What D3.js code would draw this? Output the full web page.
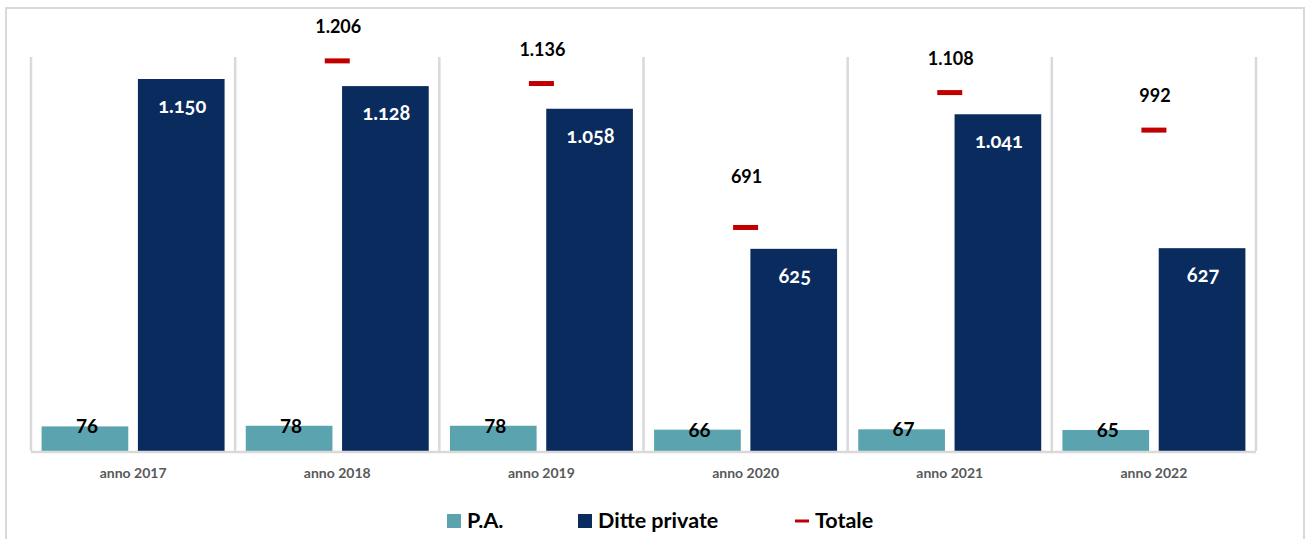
<!DOCTYPE html>
<html>
<head>
<meta charset="utf-8">
<script src="https://cdn.jsdelivr.net/npm/d3@7"></script>
<style>
  html, body { margin: 0; padding: 0; background: #fff; }
  svg { display: block; }
  text { font-family: Lato, "Open Sans", sans-serif; }
</style>
</head>
<body>
<svg id="chart" width="1305" height="539"></svg>
<script>
// Categories and series
const categories = ["anno 2017", "anno 2018", "anno 2019", "anno 2020", "anno 2021", "anno 2022"];
const pa = [76, 78, 78, 66, 67, 65];
const ditte = [1150, 1128, 1058, 625, 1041, 627];
const totale = [null, 1206, 1136, 691, 1108, 992];
const seriesNames = ["P.A.", "Ditte private", "Totale"];

const colors = { pa: "#5BA3AE", ditte: "#0A2B5E", totale: "#C00000", grid: "#D9D9D9", axisText: "#595959" };

const W = 1305, H = 539;
const plot = { left: 31, right: 1256, top: 57, bottom: 451 };

const svg = d3.select("#chart");

// Outer frame
svg.append("path")
  .attr("d", `M6,${H} L6,8 L1304,8 L1304,${H}`)
  .attr("fill", "none").attr("stroke", colors.grid).attr("stroke-width", 2);

const x = d3.scaleBand().domain(categories).range([plot.left, plot.right]).paddingInner(0).paddingOuter(0);
const inner = d3.scaleBand().domain(["pa", "ditte"]).range([0, x.bandwidth()]).paddingInner(0.1).paddingOuter(0.11);
const y = d3.scaleLinear().domain([0, 1218]).range([plot.bottom, plot.top]);

// Category separators
const seps = categories.map(c => x(c)).concat([x(categories[categories.length - 1]) + x.bandwidth()]);
svg.append("g").selectAll("line").data(seps).join("line")
  .attr("x1", d => d).attr("x2", d => d)
  .attr("y1", plot.top).attr("y2", plot.bottom)
  .attr("stroke", colors.grid).attr("stroke-width", 2.5);

// Bars
const rows = categories.map((c, i) => ({ c, pa: pa[i], ditte: ditte[i], totale: totale[i] }));
const g = svg.append("g");

g.selectAll("rect.pa").data(rows).join("rect").attr("class", "pa")
  .attr("x", d => x(d.c) + inner("pa")).attr("width", inner.bandwidth())
  .attr("y", d => y(d.pa)).attr("height", d => y(0) - y(d.pa))
  .attr("fill", colors.pa);

g.selectAll("rect.ditte").data(rows).join("rect").attr("class", "ditte")
  .attr("x", d => x(d.c) + inner("ditte")).attr("width", inner.bandwidth())
  .attr("y", d => y(d.ditte)).attr("height", d => y(0) - y(d.ditte))
  .attr("fill", colors.ditte);

// Baseline
svg.append("line").attr("x1", plot.left).attr("x2", plot.right)
  .attr("y1", plot.bottom + 1).attr("y2", plot.bottom + 1)
  .attr("stroke", colors.grid).attr("stroke-width", 2.5);

// Totale markers
const tot = rows.filter(d => d.totale != null);
g.selectAll("rect.tot").data(tot).join("rect").attr("class", "tot")
  .attr("x", d => x(d.c) + x.bandwidth() / 2 - 12.5).attr("width", 25)
  .attr("y", d => y(d.totale) - 2.5).attr("height", 5)
  .attr("fill", colors.totale);

const fmt = v => d3.format(",")(v).replace(/,/g, ".");

// Totale label offsets above the marker (2020 label sits higher)
const totLabelGap = c => (c === "anno 2020" ? 44 : 28);

// Value labels
g.selectAll("text.tot").data(tot).join("text").attr("class", "tot")
  .attr("x", d => x(d.c) + x.bandwidth() / 2 + 1).attr("y", d => y(d.totale) - totLabelGap(d.c))
  .attr("text-anchor", "middle").attr("font-size", 18).attr("font-weight", 700)
  .attr("fill", "#000").text(d => fmt(d.totale));

g.selectAll("text.ditte").data(rows).join("text").attr("class", "ditte")
  .attr("x", d => x(d.c) + inner("ditte") + inner.bandwidth() / 2 + 1).attr("y", d => y(d.ditte) + 34)
  .attr("text-anchor", "middle").attr("font-size", 20).attr("font-weight", 700)
  .style("font-variant-numeric", "oldstyle-nums")
  .attr("fill", "#fff").text(d => fmt(d.ditte));

g.selectAll("text.pa").data(rows).join("text").attr("class", "pa")
  .attr("x", d => x(d.c) + inner("pa") + inner.bandwidth() / 2 + 2).attr("y", d => y(d.pa) + 7)
  .attr("text-anchor", "middle").attr("font-size", 19).attr("font-weight", 700)
  .attr("fill", "#000").text(d => fmt(d.pa));

// Category axis
const xAxis = svg.append("g").attr("transform", `translate(0,${plot.bottom})`)
  .call(d3.axisBottom(x).tickSize(0).tickPadding(17));
xAxis.select(".domain").remove();
xAxis.selectAll("text").attr("font-size", 14).attr("font-weight", 700)
  .attr("fill", colors.axisText).style("font-family", "Lato, sans-serif");

// Legend
const legend = svg.append("g").attr("transform", "translate(0,521)");
const items = [
  { name: seriesNames[0], x: 447, type: "box", color: colors.pa },
  { name: seriesNames[1], x: 578, type: "box", color: colors.ditte },
  { name: seriesNames[2], x: 795, type: "line", color: colors.totale }
];
items.forEach(it => {
  if (it.type === "box") {
    legend.append("rect").attr("x", it.x).attr("y", -7).attr("width", 14).attr("height", 14).attr("fill", it.color);
  } else {
    legend.append("rect").attr("x", it.x).attr("y", -1.5).attr("width", 14).attr("height", 3).attr("fill", it.color);
  }
  legend.append("text").attr("x", it.x + 20).attr("y", 7)
    .attr("font-size", 21.5).attr("font-weight", 700).attr("fill", "#000").text(it.name);
});
</script>
</body>
</html>
